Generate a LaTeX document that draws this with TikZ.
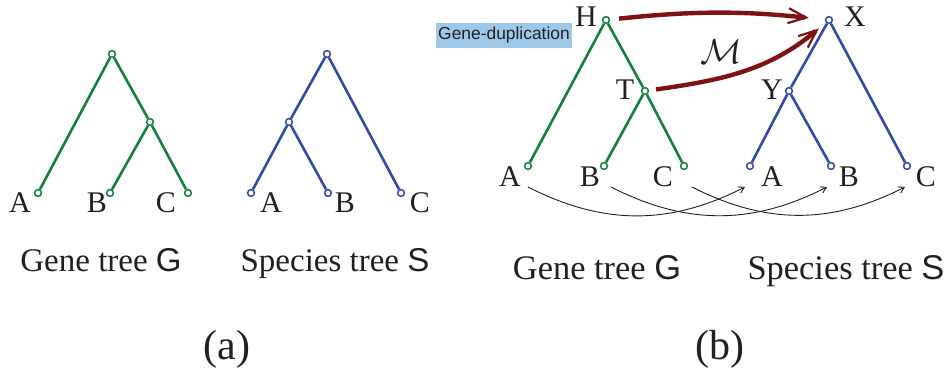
\documentclass[tikz,border=0pt]{standalone}
\usepackage{fontspec}
\setmainfont{Liberation Serif}
\setsansfont{Liberation Sans}
\usetikzlibrary{arrows.meta}

\definecolor{gcol}{RGB}{20,128,60}
\definecolor{scol}{RGB}{50,75,165}
\definecolor{mapcol}{RGB}{128,18,18}
\definecolor{dupcol}{RGB}{157,200,234}
\definecolor{txtcol}{RGB}{35,31,32}

\tikzset{
  gv/.style={circle,draw=gcol,fill=white,line width=0.75pt,inner sep=0pt,minimum size=3.4pt},
  sv/.style={gv,draw=scol},
  gedge/.style={draw=gcol,line width=1.3pt},
  sedge/.style={draw=scol,line width=1.3pt},
  lab/.style={anchor=base,inner sep=0pt,text=txtcol,font=\fontsize{15}{18}\selectfont},
  captext/.style={anchor=base,inner sep=0pt,text=txtcol,font=\fontsize{16.5}{20}\selectfont},
  bigcap/.style={captext,font=\fontsize{17.2}{20}\selectfont},
  panel/.style={anchor=base,inner sep=0pt,text=txtcol,font=\fontsize{21}{24}\selectfont},
  mapto/.style={draw=mapcol,line width=2.2pt,-{Straight Barb[length=9pt,width=7.5pt,line width=1.1pt]}},
  leafmap/.style={draw=txtcol,line width=0.45pt,-{Straight Barb[length=2.8pt,width=3.4pt]}},
}

\begin{document}
\begin{tikzpicture}[x=0.5pt,y=0.5pt]
  \useasboundingbox (0,0) rectangle (950,-378);

  % (a) gene tree
  \node[gv] (gr) at (112,-54) {};
  \node[gv] (gi) at (150,-122) {};
  \node[gv] (ga) at (38,-193) {};
  \node[gv] (gb) at (110,-193) {};
  \node[gv] (gc) at (188,-193) {};
  \draw[gedge] (gr) -- (ga) (gr) -- (gi) (gi) -- (gb) (gi) -- (gc);
  \node[lab] (gal) at (20,-213) {A};
  \node[lab] (gbl) at (97,-213) {B};
  \node[lab] (gcl) at (166,-213) {C};
  \node[captext] (gcap) at (101,-272) {Gene tree \textsf{G}};

  % (a) species tree
  \node[sv] (sr) at (327,-54) {};
  \node[sv] (si) at (289,-122) {};
  \node[sv] (sa) at (251,-193) {};
  \node[sv] (sb) at (328,-193) {};
  \node[sv] (sc) at (401,-193) {};
  \draw[sedge] (sr) -- (si) (sr) -- (sc) (si) -- (sa) (si) -- (sb);
  \node[lab] (sal) at (271,-213) {A};
  \node[lab] (sbl) at (345,-213) {B};
  \node[lab] (scl) at (420,-213) {C};
  \node[captext] (scap) at (335,-272) {Species tree \textsf{S}};

  \node[panel] (pa) at (227,-360) {(a)};

  % (b) gene tree
  \node[gv] (bh) at (606,-20) {};
  \node[gv] (bt) at (645,-91) {};
  \node[gv] (ba) at (528,-166) {};
  \node[gv] (bb) at (604,-166) {};
  \node[gv] (bc) at (684,-166) {};
  \draw[gedge] (bh) -- (ba) (bh) -- (bt) (bt) -- (bb) (bt) -- (bc);
  \node[lab] (bhl) at (586,-27) {H};
  \node[lab] (btl) at (625,-100) {T};
  \node[lab] (bal) at (510,-187) {A};
  \node[lab] (bbl) at (590,-187) {B};
  \node[lab] (bcl) at (663,-187) {C};
  \node[fill=dupcol,inner xsep=1pt,inner ysep=0pt,minimum height=12.5pt,text=txtcol,
        font=\sffamily\fontsize{8.7}{10}\selectfont] (dup) at (504,-35.5) {Gene-duplication};
  \node[bigcap] (bgcap) at (597,-280) {Gene tree \textsf{G}};

  % (b) species tree
  \node[sv] (bx) at (829,-20) {};
  \node[sv] (by) at (789,-91) {};
  \node[sv] (xa) at (750,-166) {};
  \node[sv] (xb) at (831,-166) {};
  \node[sv] (xc) at (907,-166) {};
  \draw[sedge] (bx) -- (by) (bx) -- (xc) (by) -- (xa) (by) -- (xb);
  \node[lab] (bxl) at (855,-27) {X};
  \node[lab] (byl) at (772,-100) {Y};
  \node[lab] (xal) at (772,-187) {A};
  \node[lab] (xbl) at (849,-187) {B};
  \node[lab] (xcl) at (926,-187) {C};
  \node[bigcap] (bscap) at (846,-280) {Species tree \textsf{S}};

  % mapping M
  \draw[mapto,shorten <=4.5pt,shorten >=8pt] (bh) to[bend left=6] (bx);
  \draw[mapto,shorten <=3.5pt,shorten >=4.5pt] (bt) to[out=8,in=220] (bx);
  \node[text=txtcol,font=\fontsize{17.5}{20}\selectfont] (mlab) at (721,-52) {$\mathcal{M}$};

  % leaves to leaves
  \draw[leafmap] ([shift={(0,-21)}]ba.center) to[out=-27,in=207] ([shift={(-5,-21)}]xa.center);
  \draw[leafmap] ([shift={(7,-21)}]bb.center) to[out=-27,in=207] ([shift={(-4,-21)}]xb.center);
  \draw[leafmap] ([shift={(8,-21)}]bc.center) to[out=-27,in=207] ([shift={(-2,-21)}]xc.center);

  \node[panel] (pb) at (720,-360) {(b)};
\end{tikzpicture}
\end{document}
